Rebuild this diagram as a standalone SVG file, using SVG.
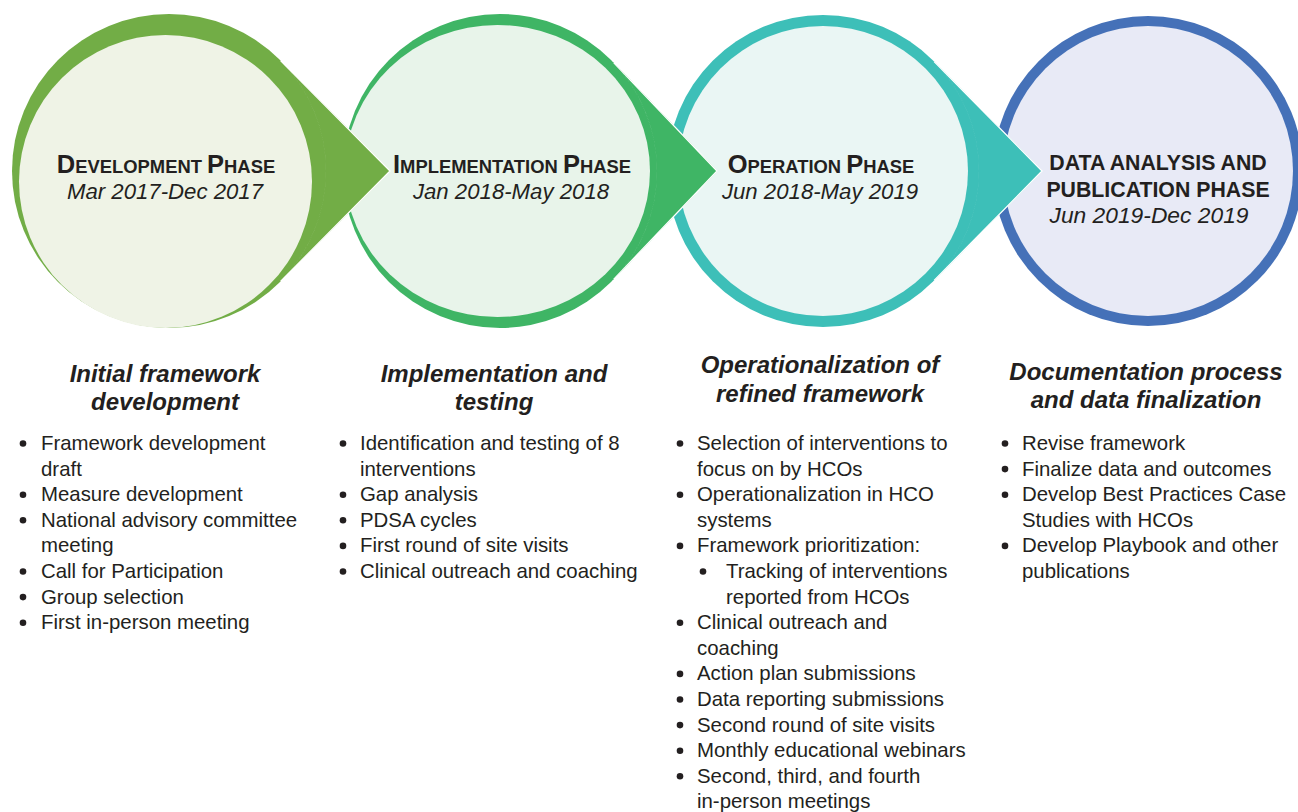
<svg xmlns="http://www.w3.org/2000/svg" width="1298" height="812" viewBox="0 0 1298 812">
<style>
.ttl{font-family:"Liberation Sans",Arial,sans-serif;font-weight:bold;fill:#231f20;text-anchor:middle}
.big{font-size:25.5px}
.sm{font-size:18.4px}
.date{font-family:"Liberation Sans",Arial,sans-serif;font-style:italic;font-size:22.2px;fill:#231f20;text-anchor:middle}
.cap{font-family:"Liberation Sans",Arial,sans-serif;font-weight:bold;font-size:21.3px;fill:#231f20;text-anchor:middle}
.hd{font-family:"Liberation Sans",Arial,sans-serif;font-weight:bold;font-style:italic;font-size:24px;fill:#231f20;text-anchor:middle}
.it{font-family:"Liberation Sans",Arial,sans-serif;font-size:20.4px;fill:#231f20}
.dot{fill:#231f20}
.edge{fill:none;stroke:#ffffff;stroke-width:1.3;stroke-linejoin:miter}
</style>
<rect width="1298" height="812" fill="#ffffff"/>

<g id="node-data-analysis">
<circle cx="1148" cy="171" r="155" fill="#4571b8"/>
<circle cx="1148" cy="171" r="145" fill="#e8eaf6"/>
<text class="cap" x="1158" y="170">DATA ANALYSIS AND</text>
<text class="cap" x="1158" y="197">PUBLICATION PHASE</text>
<text class="date" x="1149" y="223" style="font-size:22.8px">Jun 2019-Dec 2019</text>
</g>

<g id="node-operation">
<circle cx="823" cy="171" r="156" fill="#3dbfb8"/>
<circle cx="823" cy="171" r="145" fill="#eaf6f4"/>
<text class="ttl" x="821" y="173"><tspan class="big">O</tspan><tspan class="sm">PERATION </tspan><tspan class="big">P</tspan><tspan class="sm">HASE</tspan></text>
<text class="date" x="820" y="199">Jun 2018-May 2019</text>
</g>

<g id="node-implementation">
<circle cx="500" cy="171" r="157" fill="#3fb565"/>
<ellipse cx="497.5" cy="171" rx="152.5" ry="146" fill="#e8f4ea"/>
<text class="ttl" x="512" y="173"><tspan class="big">I</tspan><tspan class="sm">MPLEMENTATION </tspan><tspan class="big">P</tspan><tspan class="sm">HASE</tspan></text>
<text class="date" x="511" y="199">Jan 2018-May 2018</text>
</g>

<g id="node-development">
<circle cx="169" cy="171" r="157" fill="#72ad46"/>
<circle cx="165.5" cy="181.5" r="146.5" fill="#eff3e6"/>
<text class="ttl" x="166" y="173"><tspan class="big">D</tspan><tspan class="sm">EVELOPMENT </tspan><tspan class="big">P</tspan><tspan class="sm">HASE</tspan></text>
<text class="date" x="165" y="199">Mar 2017-Dec 2017</text>
</g>

<g id="connectors">
<path d="M934.1,61.5 L1042,171 L934.1,280.5 A156,156 0 0 0 934.1,61.5 Z" fill="#3dbfb8" stroke="#3dbfb8" stroke-width="1"/>
<path class="edge" d="M934.1,61.5 L1042,171 L934.1,280.5"/>
<path d="M613.6,62.6 L717,171 L613.6,279.4 A157,157 0 0 0 613.6,62.6 Z" fill="#3fb565" stroke="#3fb565" stroke-width="1"/>
<path class="edge" d="M613.6,62.6 L717,171 L613.6,279.4"/>
<path d="M280.5,60.5 L390,171 L280.5,281.5 A157,157 0 0 0 280.5,60.5 Z" fill="#72ad46" stroke="#72ad46" stroke-width="1"/>
<path class="edge" d="M280.5,60.5 L390,171 L280.5,281.5"/>
</g>

<g id="list-development">
<text class="hd" x="165" y="382">Initial framework</text>
<text class="hd" x="165" y="410">development</text>
<circle class="dot" cx="23" cy="443.5" r="3.3"/>
<circle class="dot" cx="23" cy="494.7" r="3.3"/>
<circle class="dot" cx="23" cy="520.3" r="3.3"/>
<circle class="dot" cx="23" cy="571.5" r="3.3"/>
<circle class="dot" cx="23" cy="597.1" r="3.3"/>
<circle class="dot" cx="23" cy="622.7" r="3.3"/>
<text class="it" x="41" y="450">Framework development</text>
<text class="it" x="41" y="475.6">draft</text>
<text class="it" x="41" y="501.2">Measure development</text>
<text class="it" x="41" y="526.8">National advisory committee</text>
<text class="it" x="41" y="552.4">meeting</text>
<text class="it" x="41" y="578">Call for Participation</text>
<text class="it" x="41" y="603.6">Group selection</text>
<text class="it" x="41" y="629.2">First in-person meeting</text>
</g>

<g id="list-implementation">
<text class="hd" x="494" y="382">Implementation and</text>
<text class="hd" x="494" y="410">testing</text>
<circle class="dot" cx="343" cy="443.5" r="3.3"/>
<circle class="dot" cx="343" cy="494.7" r="3.3"/>
<circle class="dot" cx="343" cy="520.3" r="3.3"/>
<circle class="dot" cx="343" cy="545.9" r="3.3"/>
<circle class="dot" cx="343" cy="571.5" r="3.3"/>
<text class="it" x="360" y="450">Identification and testing of 8</text>
<text class="it" x="360" y="475.6">interventions</text>
<text class="it" x="360" y="501.2">Gap analysis</text>
<text class="it" x="360" y="526.8">PDSA cycles</text>
<text class="it" x="360" y="552.4">First round of site visits</text>
<text class="it" x="360" y="578">Clinical outreach and coaching</text>
</g>

<g id="list-operation">
<text class="hd" x="820" y="373">Operationalization of</text>
<text class="hd" x="820" y="402">refined framework</text>
<circle class="dot" cx="680" cy="443.5" r="3.3"/>
<circle class="dot" cx="680" cy="494.7" r="3.3"/>
<circle class="dot" cx="680" cy="545.9" r="3.3"/>
<circle class="dot" cx="703" cy="571.5" r="3.3"/>
<circle class="dot" cx="680" cy="622.7" r="3.3"/>
<circle class="dot" cx="680" cy="673.9" r="3.3"/>
<circle class="dot" cx="680" cy="699.5" r="3.3"/>
<circle class="dot" cx="680" cy="725.1" r="3.3"/>
<circle class="dot" cx="680" cy="750.7" r="3.3"/>
<circle class="dot" cx="680" cy="776.3" r="3.3"/>
<text class="it" x="697" y="450">Selection of interventions to</text>
<text class="it" x="697" y="475.6">focus on by HCOs</text>
<text class="it" x="697" y="501.2">Operationalization in HCO</text>
<text class="it" x="697" y="526.8">systems</text>
<text class="it" x="697" y="552.4">Framework prioritization:</text>
<text class="it" x="726" y="578">Tracking of interventions</text>
<text class="it" x="726" y="603.6">reported from HCOs</text>
<text class="it" x="697" y="629.2">Clinical outreach and</text>
<text class="it" x="697" y="654.8">coaching</text>
<text class="it" x="697" y="680.4">Action plan submissions</text>
<text class="it" x="697" y="706">Data reporting submissions</text>
<text class="it" x="697" y="731.6">Second round of site visits</text>
<text class="it" x="697" y="757.2">Monthly educational webinars</text>
<text class="it" x="697" y="782.8">Second, third, and fourth</text>
<text class="it" x="697" y="808.4">in-person meetings</text>
</g>

<g id="list-data-analysis">
<text class="hd" x="1146" y="380">Documentation process</text>
<text class="hd" x="1146" y="408">and data finalization</text>
<circle class="dot" cx="1005" cy="443.5" r="3.3"/>
<circle class="dot" cx="1005" cy="469.1" r="3.3"/>
<circle class="dot" cx="1005" cy="494.7" r="3.3"/>
<circle class="dot" cx="1005" cy="545.9" r="3.3"/>
<text class="it" x="1022" y="450">Revise framework</text>
<text class="it" x="1022" y="475.6">Finalize data and outcomes</text>
<text class="it" x="1022" y="501.2">Develop Best Practices Case</text>
<text class="it" x="1022" y="526.8">Studies with HCOs</text>
<text class="it" x="1022" y="552.4">Develop Playbook and other</text>
<text class="it" x="1022" y="578">publications</text>
</g>
</svg>
